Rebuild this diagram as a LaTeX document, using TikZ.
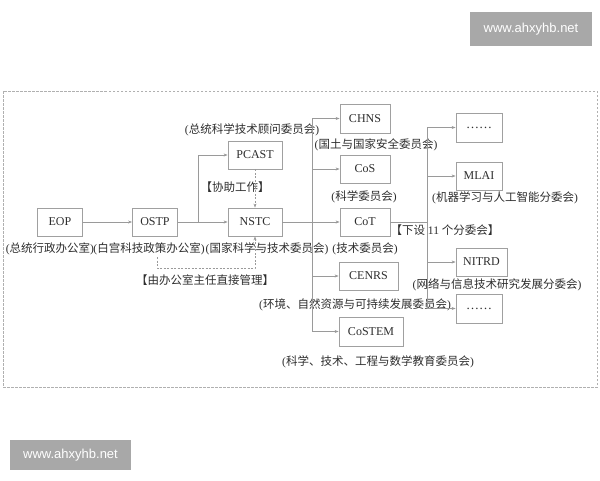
\documentclass[tikz,border=0pt]{standalone}
\usepackage{fontspec}
\setmainfont{Liberation Serif}
\newfontfamily\cjk{Noto Sans CJK SC}
\newfontfamily\wmfont{Liberation Sans}
\newcommand{\zh}[1]{{\cjk #1}}
\usetikzlibrary{arrows.meta}
\definecolor{txt}{HTML}{2E2E2E}
\definecolor{boxgray}{HTML}{A0A0A0}
\definecolor{linegray}{HTML}{9A9A9A}
\definecolor{framegray}{HTML}{B0B0B0}
\definecolor{wmgray}{HTML}{A8A8A8}
\begin{document}
\begin{tikzpicture}[x=1pt,y=-1pt,
  box/.style={draw=boxgray, line width=0.8pt, minimum height=28, inner sep=0pt,
    font=\fontsize{12}{14}\selectfont, text=txt},
  lbl/.style={inner sep=0pt, font=\fontsize{11.5}{13}\selectfont, text=txt},
  conn/.style={draw=linegray, line width=0.7pt},
  arr/.style={conn, -{Stealth[length=4pt,width=3pt]}},
  dsh/.style={arr, dash pattern=on 2pt off 1.5pt},
  wm/.style={fill=wmgray, text=white, inner sep=0pt, font=\wmfont\fontsize{13}{15}\selectfont}]
\useasboundingbox (0,0) rectangle (600,480);
\fill[white] (0,0) rectangle (600,480);
% frame
\draw[framegray, line width=0.7pt, dash pattern=on 2.5pt off 1.5pt] (3,91) rectangle (597,387);
% watermarks
\node[wm, minimum width=122, minimum height=34] (wm1) at (531,29) {www.ahxyhb.net};
\node[wm, minimum width=121, minimum height=30] (wm2) at (70.5,455) {www.ahxyhb.net};
% boxes
\node[box, minimum width=45] (eop) at (60,222) {EOP};
\node[box, minimum width=45] (ostp) at (155,222) {OSTP};
\node[box, minimum width=54] (nstc) at (255,222) {NSTC};
\node[box, minimum width=54] (pcast) at (255,155) {PCAST};
\node[box, minimum width=50, minimum height=29] (chns) at (365,118.5) {CHNS};
\node[box, minimum width=50] (cos) at (365,169) {CoS};
\node[box, minimum width=50] (cot) at (365,222) {CoT};
\node[box, minimum width=59] (cenrs) at (368.5,276) {CENRS};
\node[box, minimum width=64, minimum height=29] (costem) at (371,331.5) {CoSTEM};
\node[box, minimum width=46, minimum height=29] (d1) at (479,127.5) {\fontsize{13}{14}\selectfont ……};
\node[box, minimum width=46] (mlai) at (479,176) {MLAI};
\node[box, minimum width=51] (nitrd) at (481.5,262) {NITRD};
\node[box, minimum width=46, minimum height=29] (d2) at (479,308.5) {\fontsize{13}{14}\selectfont ……};
% labels
\node[lbl] (l-eop) at (50,249) {(\zh{总统行政办公室})};
\node[lbl] (l-ostp) at (149,249) {(\zh{白宫科技政策办公室})};
\node[lbl] (l-nstc) at (267,249) {(\zh{国家科学与技术委员会})};
\node[lbl] (l-cot) at (365,249) {(\zh{技术委员会})};
\node[lbl] (l-pcast) at (252,130) {(\zh{总统科学技术顾问委员会})};
\node[lbl] (l-chns) at (376,145) {(\zh{国土与国家安全委员会})};
\node[lbl] (l-cos) at (364,197) {(\zh{科学委员会})};
\node[lbl] (l-sub) at (445,230) {\zh{【下设} 11 \zh{个分委会】}};
\node[lbl] (l-mlai) at (505,198) {(\zh{机器学习与人工智能分委会})};
\node[lbl] (l-nitrd) at (497,285) {(\zh{网络与信息技术研究发展分委会})};
\node[lbl] (l-cenrs) at (355,305) {(\zh{环境、自然资源与可持续发展委员会})};
\node[lbl] (l-costem) at (378,362) {(\zh{科学、技术、工程与数学教育委员会})};
\node[lbl] (l-help) at (235,187) {\zh{【协助工作】}};
\node[lbl] (l-mgmt) at (205,280) {\zh{【由办公室主任直接管理】}};
% connectors
\draw[arr] (eop) -- (ostp);
\draw[arr] (ostp) -- (nstc);
\coordinate (b0) at (198,222);
\draw[arr] (b0) |- (pcast);
\draw[dsh] (pcast) -- (nstc);
\coordinate (m0) at (157,257);
\coordinate (m1) at (255,268);
\draw[dsh] (m0) |- (m1) -- (nstc.south);
% bus 1
\coordinate (t1) at (312,118.5);
\coordinate (u1) at (312,331.5);
\draw[conn] (t1) -- (u1);
\draw[arr] (t1) -- (chns);
\draw[arr] (t1 |- cos) -- (cos);
\draw[arr] (nstc) -- (cot);
\draw[arr] (t1 |- cenrs) -- (cenrs);
\draw[arr] (u1) -- (costem);
% bus 2
\coordinate (t2) at (427,127.5);
\coordinate (u2) at (427,308.5);
\draw[conn] (t2) -- (u2);
\draw[conn] (cot) -- (t2 |- cot);
\draw[arr] (t2) -- (d1);
\draw[arr] (t2 |- mlai) -- (mlai);
\draw[arr] (t2 |- nitrd) -- (nitrd);
\draw[arr] (u2) -- (d2);
\end{tikzpicture}
\end{document}
